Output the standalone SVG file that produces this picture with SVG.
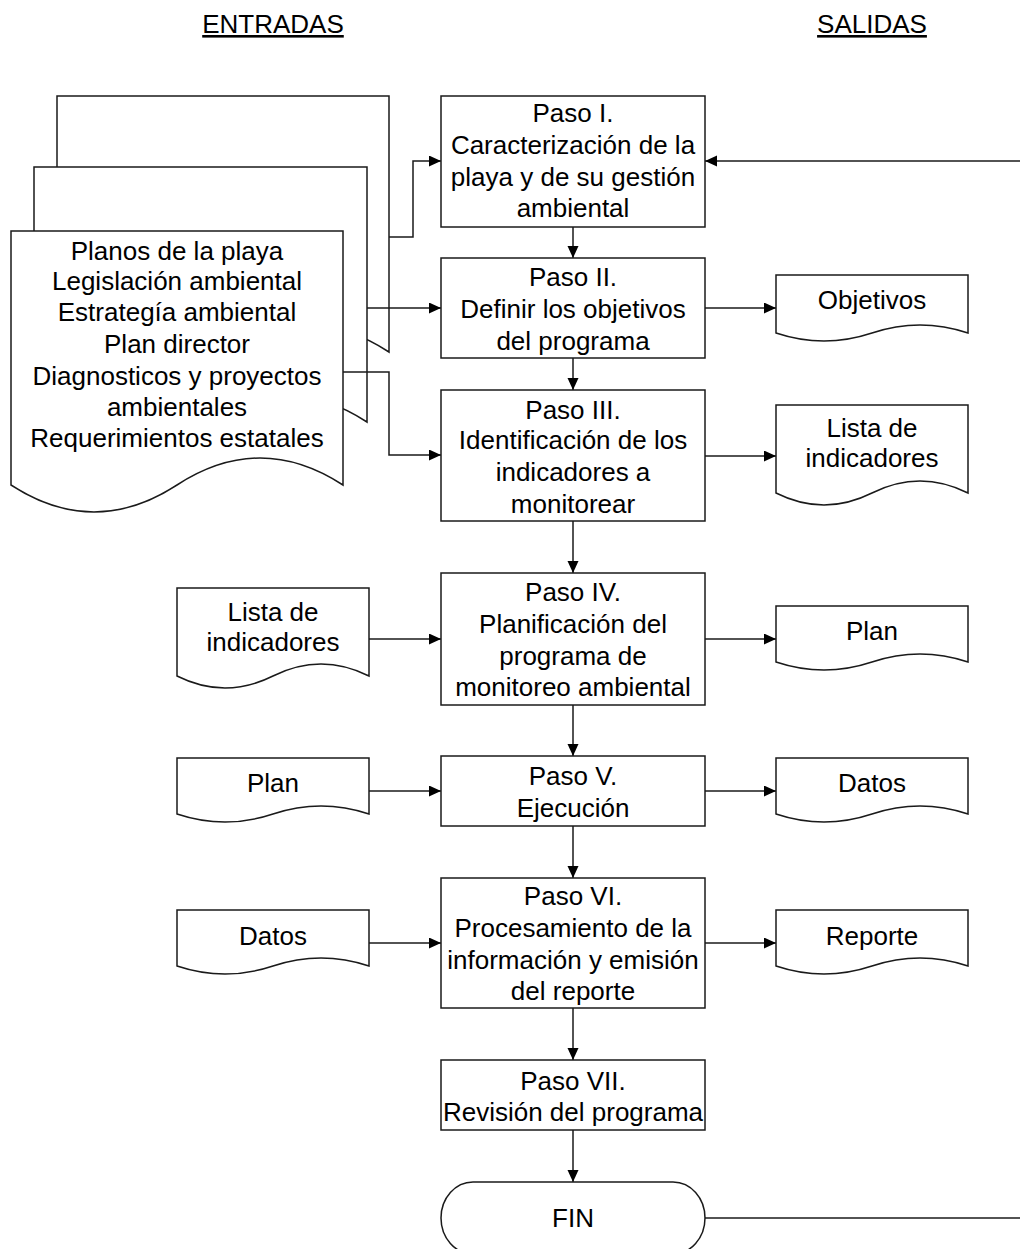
<svg xmlns="http://www.w3.org/2000/svg" width="1020" height="1249" viewBox="0 0 1020 1249">
<defs>
<style>
text{font-family:"Liberation Sans",Arial,sans-serif;font-size:26px;fill:#000;text-anchor:middle}
.box{fill:#fff;stroke:#1a1a1a;stroke-width:1.5}
.con{fill:none;stroke:#1a1a1a;stroke-width:1.5}
.arr{marker-end:url(#ah)}
.title{text-decoration:underline}
</style>
<marker id="ah" markerUnits="userSpaceOnUse" markerWidth="13" markerHeight="12" refX="12" refY="5.5" orient="auto">
<path d="M0,0 L12,5.5 L0,11 Z" fill="#000"/>
</marker>
</defs>
<rect width="1020" height="1249" fill="#fff"/>
<g id="titles">
<text class="title" x="273" y="33">ENTRADAS</text>
<text class="title" x="872" y="33">SALIDAS</text>
</g>
<g id="inputs-stack">
<path class="box" d="M57,352 V96 H389 V352 Q306,298 223,352 T57,352 Z"/>
<path class="box" d="M34,422 V167 H367 V422 Q283.75,368 200.5,422 T34,422 Z"/>
<path class="box" d="M11,485 V231 H343 V485 Q260,431 177,485 T11,485 Z"/>
<text x="177" y="260">Planos de la playa</text>
<text x="177" y="290">Legislación ambiental</text>
<text x="177" y="321">Estrategía ambiental</text>
<text x="177" y="353">Plan director</text>
<text x="177" y="385">Diagnosticos y proyectos</text>
<text x="177" y="416">ambientales</text>
<text x="177" y="447">Requerimientos estatales</text>
</g>
<g id="connectors">
<path class="con arr" d="M389,237 H413 V161 H441"/>
<path class="con arr" d="M367,308 H441"/>
<path class="con arr" d="M343,372 H389 V455 H441"/>
<path class="con arr" d="M1020,161 H705"/>
<path class="con" d="M705,1218 H1020"/>
<path class="con arr" d="M573,227 V258"/>
<path class="con arr" d="M573,358 V390"/>
<path class="con arr" d="M573,521 V573"/>
<path class="con arr" d="M573,705 V756"/>
<path class="con arr" d="M573,826 V878"/>
<path class="con arr" d="M573,1008 V1060"/>
<path class="con arr" d="M573,1130 V1182"/>
<path class="con arr" d="M705,308 H776"/>
<path class="con arr" d="M705,456 H776"/>
<path class="con arr" d="M705,639 H776"/>
<path class="con arr" d="M705,791 H776"/>
<path class="con arr" d="M705,943 H776"/>
<path class="con arr" d="M369,639 H441"/>
<path class="con arr" d="M369,791 H441"/>
<path class="con arr" d="M369,943 H441"/>
</g>
<g id="paso1">
<rect class="box" x="441" y="96" width="264" height="131"/>
<text x="573" y="122">Paso I.</text>
<text x="573" y="154">Caracterización de la</text>
<text x="573" y="186">playa y de su gestión</text>
<text x="573" y="217">ambiental</text>
</g>
<g id="paso2">
<rect class="box" x="441" y="258" width="264" height="100"/>
<text x="573" y="286">Paso II.</text>
<text x="573" y="318">Definir los objetivos</text>
<text x="573" y="350">del programa</text>
</g>
<g id="paso3">
<rect class="box" x="441" y="390" width="264" height="131"/>
<text x="573" y="419">Paso III.</text>
<text x="573" y="449">Identificación de los</text>
<text x="573" y="481">indicadores a</text>
<text x="573" y="513">monitorear</text>
</g>
<g id="paso4">
<rect class="box" x="441" y="573" width="264" height="132"/>
<text x="573" y="601">Paso IV.</text>
<text x="573" y="633">Planificación del</text>
<text x="573" y="665">programa de</text>
<text x="573" y="696">monitoreo ambiental</text>
</g>
<g id="paso5">
<rect class="box" x="441" y="756" width="264" height="70"/>
<text x="573" y="785">Paso V.</text>
<text x="573" y="817">Ejecución</text>
</g>
<g id="paso6">
<rect class="box" x="441" y="878" width="264" height="130"/>
<text x="573" y="905">Paso VI.</text>
<text x="573" y="937">Procesamiento de la</text>
<text x="573" y="969">información y emisión</text>
<text x="573" y="1000">del reporte</text>
</g>
<g id="paso7">
<rect class="box" x="441" y="1060" width="264" height="70"/>
<text x="573" y="1090">Paso VII.</text>
<text x="573" y="1121">Revisión del programa</text>
</g>
<g id="fin">
<rect class="box" x="441" y="1182" width="264" height="72" rx="32" ry="36"/>
<text x="573" y="1227">FIN</text>
</g>
<g id="out-objetivos">
<path class="box" d="M776,333 V275 H968 V333 Q920,317 872,333 T776,333 Z"/>
<text x="872" y="309">Objetivos</text>
</g>
<g id="out-lista">
<path class="box" d="M776,493 V405 H968 V493 Q920,469 872,493 T776,493 Z"/>
<text x="872" y="437">Lista de</text>
<text x="872" y="467">indicadores</text>
</g>
<g id="out-plan">
<path class="box" d="M776,662 V606 H968 V662 Q920,646 872,662 T776,662 Z"/>
<text x="872" y="640">Plan</text>
</g>
<g id="out-datos">
<path class="box" d="M776,814 V758 H968 V814 Q920,798 872,814 T776,814 Z"/>
<text x="872" y="792">Datos</text>
</g>
<g id="out-reporte">
<path class="box" d="M776,966 V910 H968 V966 Q920,950 872,966 T776,966 Z"/>
<text x="872" y="945">Reporte</text>
</g>
<g id="in-lista">
<path class="box" d="M177,676 V588 H369 V676 Q321,652 273,676 T177,676 Z"/>
<text x="273" y="621">Lista de</text>
<text x="273" y="651">indicadores</text>
</g>
<g id="in-plan">
<path class="box" d="M177,814 V758 H369 V814 Q321,798 273,814 T177,814 Z"/>
<text x="273" y="792">Plan</text>
</g>
<g id="in-datos">
<path class="box" d="M177,966 V910 H369 V966 Q321,950 273,966 T177,966 Z"/>
<text x="273" y="945">Datos</text>
</g>
</svg>
